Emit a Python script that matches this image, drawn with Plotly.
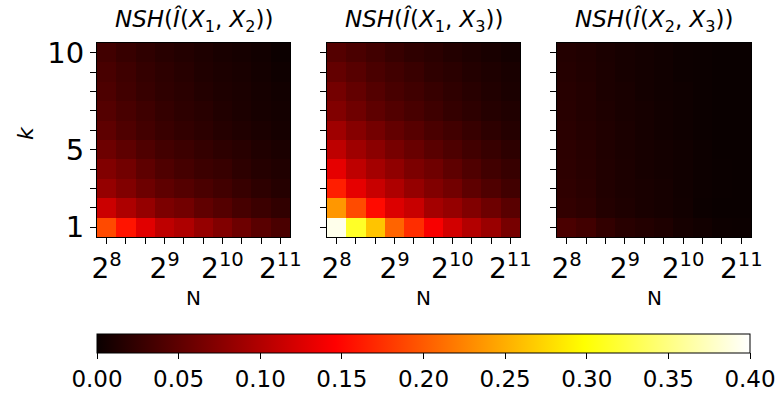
import plotly.graph_objects as go

# ---- data ----
N_log2 = [8.0, 8.3333, 8.6667, 9.0, 9.3333, 9.6667, 10.0, 10.3333, 10.6667, 11.0]
k_values = [1, 2, 3, 4, 5, 6, 7, 8, 9, 10]
x_tick_labels = ["2<sup>8</sup>", "", "", "2<sup>9</sup>", "", "", "2<sup>10</sup>", "", "", "2<sup>11</sup>"]
y_tick_labels = ["1", "", "", "", "5", "", "", "", "", "10"]
cbar_ticks = [0.0, 0.05, 0.10, 0.15, 0.20, 0.25, 0.30, 0.35, 0.40]

nsh_x1_x2 = [
    [0.190, 0.158, 0.128, 0.107, 0.098, 0.083, 0.071, 0.059, 0.047, 0.038],
    [0.115, 0.097, 0.083, 0.068, 0.062, 0.051, 0.044, 0.036, 0.029, 0.023],
    [0.083, 0.071, 0.059, 0.050, 0.044, 0.038, 0.033, 0.027, 0.021, 0.016],
    [0.071, 0.062, 0.050, 0.041, 0.035, 0.030, 0.027, 0.021, 0.016, 0.013],
    [0.059, 0.050, 0.041, 0.034, 0.030, 0.025, 0.021, 0.018, 0.013, 0.010],
    [0.050, 0.041, 0.034, 0.028, 0.024, 0.020, 0.016, 0.013, 0.010, 0.007],
    [0.044, 0.037, 0.031, 0.025, 0.021, 0.018, 0.014, 0.011, 0.008, 0.006],
    [0.040, 0.033, 0.027, 0.022, 0.019, 0.015, 0.012, 0.010, 0.007, 0.005],
    [0.037, 0.031, 0.025, 0.021, 0.017, 0.013, 0.011, 0.009, 0.006, 0.003],
    [0.033, 0.027, 0.022, 0.018, 0.015, 0.012, 0.009, 0.007, 0.005, 0.001],
]
nsh_x1_x3 = [
    [0.392, 0.314, 0.263, 0.206, 0.173, 0.142, 0.119, 0.101, 0.086, 0.065],
    [0.236, 0.191, 0.152, 0.125, 0.113, 0.092, 0.083, 0.071, 0.059, 0.047],
    [0.164, 0.131, 0.113, 0.098, 0.083, 0.071, 0.062, 0.050, 0.041, 0.033],
    [0.131, 0.107, 0.092, 0.080, 0.068, 0.060, 0.050, 0.041, 0.033, 0.027],
    [0.107, 0.089, 0.077, 0.065, 0.056, 0.047, 0.040, 0.033, 0.027, 0.021],
    [0.089, 0.074, 0.063, 0.053, 0.046, 0.038, 0.033, 0.027, 0.021, 0.016],
    [0.071, 0.060, 0.050, 0.043, 0.037, 0.031, 0.025, 0.021, 0.016, 0.013],
    [0.063, 0.053, 0.044, 0.037, 0.032, 0.027, 0.022, 0.018, 0.014, 0.010],
    [0.053, 0.046, 0.038, 0.033, 0.028, 0.022, 0.019, 0.015, 0.012, 0.009],
    [0.044, 0.038, 0.033, 0.027, 0.022, 0.019, 0.015, 0.012, 0.009, 0.006],
]
nsh_x2_x3 = [
    [0.038, 0.033, 0.024, 0.018, 0.015, 0.012, 0.007, 0.005, 0.002, 0.001],
    [0.024, 0.021, 0.015, 0.012, 0.009, 0.007, 0.005, 0.001, 0.000, 0.000],
    [0.022, 0.019, 0.014, 0.011, 0.009, 0.007, 0.004, 0.002, 0.0005, 0.000],
    [0.021, 0.018, 0.014, 0.011, 0.008, 0.006, 0.004, 0.002, 0.0005, 0.000],
    [0.020, 0.017, 0.013, 0.010, 0.008, 0.006, 0.004, 0.002, 0.000, 0.000],
    [0.019, 0.016, 0.013, 0.010, 0.007, 0.005, 0.003, 0.001, 0.000, 0.000],
    [0.018, 0.015, 0.012, 0.009, 0.007, 0.005, 0.003, 0.001, 0.000, 0.000],
    [0.017, 0.015, 0.011, 0.009, 0.006, 0.004, 0.003, 0.001, 0.000, 0.000],
    [0.016, 0.014, 0.011, 0.008, 0.006, 0.004, 0.002, 0.001, 0.000, 0.000],
    [0.015, 0.013, 0.010, 0.008, 0.006, 0.004, 0.002, 0.001, 0.000, 0.000],
]
titles = [
    "<i>NSH</i>(<i>Î</i>(<i>X</i><sub>1</sub>, <i>X</i><sub>2</sub>))",
    "<i>NSH</i>(<i>Î</i>(<i>X</i><sub>1</sub>, <i>X</i><sub>3</sub>))",
    "<i>NSH</i>(<i>Î</i>(<i>X</i><sub>2</sub>, <i>X</i><sub>3</sub>))",
]

# matplotlib 'hot' colormap
hot = [
    [0.0, "rgb(10,0,0)"],
    [0.365079, "rgb(255,0,0)"],
    [0.746032, "rgb(255,255,0)"],
    [1.0, "rgb(255,255,255)"],
]

FONT = "DejaVu Sans"
W, H = 779, 399
L, R, T, B = 97, 28, 43, 162
pw = W - L - R
ph = H - T - B
bottom_px = H - B
domains = [[0.0, 193 / pw], [230 / pw, 423 / pw], [460 / pw, 1.0]]

fig = go.Figure()
for i, z in enumerate([nsh_x1_x2, nsh_x1_x3, nsh_x2_x3]):
    sfx = "" if i == 0 else str(i + 1)
    fig.add_trace(go.Heatmap(
        x=N_log2, y=k_values, z=z, coloraxis="coloraxis",
        xaxis="x" + sfx, yaxis="y" + sfx, hoverinfo="skip",
    ))
    xa = dict(
        domain=domains[i], range=[7.8333, 11.1667], anchor="y" + sfx,
        tickvals=N_log2, ticktext=x_tick_labels, ticks="outside", ticklen=6,
        tickwidth=1.3, tickcolor="black", showline=True, mirror=True,
        linecolor="black", linewidth=1, showgrid=False, zeroline=False,
        tickfont=dict(family=FONT, size=28, color="black"),
    )
    ya = dict(
        domain=[0, 1], range=[0.5, 10.5], anchor="x" + sfx,
        tickvals=k_values, ticktext=y_tick_labels if i == 0 else [""] * 10,
        ticks="outside", ticklen=6, tickwidth=1.3, tickcolor="black",
        showline=True, mirror=True, linecolor="black", linewidth=1,
        showgrid=False, zeroline=False,
        tickfont=dict(family=FONT, size=29, color="black"),
    )
    fig.layout["xaxis" + sfx] = xa
    fig.layout["yaxis" + sfx] = ya
    cx = (domains[i][0] + domains[i][1]) / 2
    fig.add_annotation(text=titles[i], xref="paper", yref="paper", x=cx,
                       y=(bottom_px - 21) / ph,
                       xanchor="center", yanchor="middle", showarrow=False,
                       font=dict(family=FONT, size=23, color="black"))
    fig.add_annotation(text="N", xref="paper", yref="paper", x=cx,
                       y=-(298 - bottom_px) / ph, xanchor="center", yanchor="middle",
                       showarrow=False, font=dict(family=FONT, size=20, color="black"))

fig.add_annotation(text="<i>k</i>", xref="paper", yref="paper", x=(25 - L) / pw,
                   y=(bottom_px - 133) / ph, xanchor="center", yanchor="middle",
                   textangle=-90, showarrow=False,
                   font=dict(family=FONT, size=22, color="black"))

fig.update_layout(
    width=W, height=H,
    margin=dict(l=L, r=R, t=T, b=B, autoexpand=False),
    paper_bgcolor="white", plot_bgcolor="white",
    font=dict(family=FONT, color="black"),
    coloraxis=dict(
        colorscale=hot, cmin=0, cmax=0.4,
        colorbar=dict(
            orientation="h", x=0, xanchor="left", y=-(334 - bottom_px) / ph,
            yanchor="top", thickness=19, len=653, lenmode="pixels",
            xpad=0, ypad=0, outlinewidth=1, outlinecolor="black",
            tickvals=cbar_ticks, tickformat=".2f", ticks="outside", ticklen=6,
            tickwidth=1.3, tickcolor="black",
            tickfont=dict(family=FONT, size=23, color="black"),
        ),
    ),
)

fig.write_html("out.html", config={"displayModeBar": False},
               post_script="document.body.style.margin='0';document.body.style.overflow='hidden';")
